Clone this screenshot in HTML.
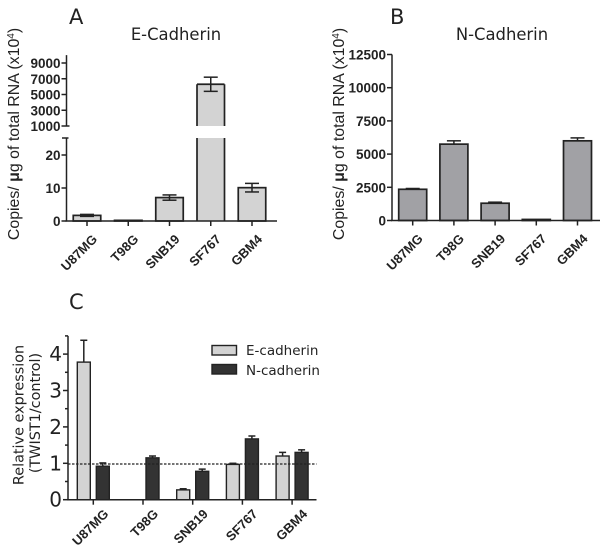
<!DOCTYPE html>
<html>
<head>
<meta charset="utf-8">
<style>
html,body{margin:0;padding:0;background:#fff}
svg{display:block;filter:blur(0.35px)}
.tick{font:bold 13.5px "Liberation Sans",sans-serif;fill:#222;text-anchor:end}
.cat{font:bold 13px "Liberation Sans",sans-serif;fill:#222;text-anchor:end}
.ylab{font:15.9px "Liberation Sans",sans-serif;fill:#222;text-anchor:middle}
.panel{font:21px "DejaVu Sans",sans-serif;fill:#222}
.title{font:16.4px "DejaVu Sans",sans-serif;fill:#222;text-anchor:middle}
.leg{font:13.5px "DejaVu Sans",sans-serif;fill:#222}
.ctick{font:20px "DejaVu Sans",sans-serif;fill:#222;text-anchor:end}
.clab{font:14.4px "DejaVu Sans",sans-serif;fill:#222;text-anchor:middle}
</style>
</head>
<body>
<svg id="fig" width="600" height="548" viewBox="0 0 600 548" xmlns="http://www.w3.org/2000/svg">
  <text class="panel" x="69" y="24">A</text>
  <text class="title" x="176" y="40">E-Cadherin</text>
  <text class="ylab" transform="translate(19,134) rotate(-90)">Copies/ <tspan font-weight="bold">μ</tspan>g of total RNA (x10<tspan font-size="10" dy="-5">4</tspan><tspan dy="5">)</tspan></text>
  <text class="panel" x="390" y="24">B</text>
  <text class="title" x="502" y="40">N-Cadherin</text>
  <text class="ylab" transform="translate(344,134) rotate(-90)">Copies/ <tspan font-weight="bold">μ</tspan>g of total RNA (x10<tspan font-size="10" dy="-5">4</tspan><tspan dy="5">)</tspan></text>
  <text class="panel" x="69" y="309">C</text>
  <text class="clab" transform="translate(23.5,415) rotate(-90)">Relative expression</text>
  <text class="clab" transform="translate(40,413) rotate(-90)">(TWIST1/control)</text>
  <g id="panelA"></g>
  <g id="panelB"></g>
  <g id="panelC"></g>
  <rect x="212" y="345.5" width="24.5" height="9.5" fill="#d3d3d3" stroke="#222" stroke-width="1.4"/>
  <text class="leg" x="246" y="355">E-cadherin</text>
  <rect x="212" y="364.5" width="24.5" height="9.5" fill="#333" stroke="#222" stroke-width="1.4"/>
  <text class="leg" x="246" y="375">N-cadherin</text>
</svg>
<script>
const categories = ['U87MG', 'T98G', 'SNB19', 'SF767', 'GBM4'];
const eCopies = [1.7, 0.2, 7.1, 6300, 10.1];
const eCopiesErr = [0.3, 0, 0.8, 900, 1.3];
const eLowerTicks = [0, 10, 20];
const eUpperTicks = [1000, 3000, 5000, 7000, 9000];
const nCopies = [2350, 5750, 1300, 80, 6000];
const nCopiesErr = [60, 250, 80, 0, 220];
const nTicks = [0, 2500, 5000, 7500, 10000, 12500];
const eRelative = [3.78, 0, 0.27, 0.97, 1.2];
const eRelativeErr = [0.6, 0, 0.03, 0.03, 0.1];
const nRelative = [0.92, 1.15, 0.78, 1.67, 1.3];
const nRelativeErr = [0.09, 0.05, 0.06, 0.08, 0.07];
const relTicks = [0, 1, 2, 3, 4];
const relMinorTicks = [0.5, 1.5, 2.5, 3.5, 4.5];
const referenceLevel = 0.98;

const NS = 'http://www.w3.org/2000/svg';
function line(parent, x1, y1, x2, y2, w, name, dash) {
  const el = document.createElementNS(NS, 'line');
  el.setAttribute('x1', x1);
  el.setAttribute('y1', y1);
  el.setAttribute('x2', x2);
  el.setAttribute('y2', y2);
  el.setAttribute('stroke', '#222');
  el.setAttribute('stroke-width', w);
  if (dash) el.setAttribute('stroke-dasharray', dash);
  
  
  parent.appendChild(el);
}
function rect(parent, x, y, w, h, fill, stroke, sw, name) {
  const el = document.createElementNS(NS, 'rect');
  el.setAttribute('x', x);
  el.setAttribute('y', y);
  el.setAttribute('width', w);
  el.setAttribute('height', Math.max(h, 0));
  el.setAttribute('fill', fill);
  el.setAttribute('stroke', stroke);
  el.setAttribute('stroke-width', sw);
  
  
  parent.appendChild(el);
}
function label(parent, x, y, str, cls, name, rot) {
  const el = document.createElementNS(NS, 'text');
  el.setAttribute('class', cls);
  if (rot) {
    el.setAttribute('transform', 'translate(' + x + ',' + y + ') rotate(' + rot + ')');
  } else {
    el.setAttribute('x', x);
    el.setAttribute('y', y);
  }
  el.textContent = str;
  
  
  parent.appendChild(el);
}
function errorBar(parent, cx, yTop, yVal, cap, w, name) {
  line(parent, cx, yTop, cx, yVal, w, name + '-stem');
  line(parent, cx - cap, yTop, cx + cap, yTop, w, name + '-cap');
}
function catLabels(parent, centers, y, dx, dy) {
  categories.forEach(function (c, i) {
    line(parent, centers(i), y, centers(i), y + 5, 1.5, 'x-tick-' + c);
    label(parent, centers(i) + dx, y + dy, c, 'cat', 'x-label-' + c, -45);
  });
}

/* Panel A: broken axis */
(function () {
  const g = document.getElementById('panelA');
  const axisX = 66.5, base = 221;
  const yLow = function (v) { return base - v * 3.3; };
  const yHigh = function (v) { return 126 - (v - 1000) * 0.007875; };
  const xc = function (i) { return 87 + i * 41.25; };
  const gapTop = 126, gapBottom = 138;
  eCopies.forEach(function (v, i) {
    const x = xc(i) - 13.75, c = categories[i];
    if (v >= 1000) {
      const top = yHigh(v);
      rect(g, x, top, 27.5, gapTop - top, '#d3d3d3', 'none', 0, 'bar-upper-fill-' + c);
      rect(g, x, gapBottom, 27.5, base - gapBottom, '#d3d3d3', 'none', 0, 'bar-lower-fill-' + c);
      line(g, x, top, x + 27.5, top, 1.7, 'bar-top-' + c);
      line(g, x, top, x, gapTop, 1.7, 'bar-upper-left-' + c);
      line(g, x + 27.5, top, x + 27.5, gapTop, 1.7, 'bar-upper-right-' + c);
      line(g, x, gapBottom, x, base, 1.7, 'bar-lower-left-' + c);
      line(g, x + 27.5, gapBottom, x + 27.5, base, 1.7, 'bar-lower-right-' + c);
      const e = yHigh(v + eCopiesErr[i]), e2 = yHigh(v - eCopiesErr[i]);
      line(g, xc(i), e, xc(i), e2, 1.5, 'error-stem-' + c);
      line(g, xc(i) - 7, e, xc(i) + 7, e, 1.5, 'error-cap-high-' + c);
      line(g, xc(i) - 7, e2, xc(i) + 7, e2, 1.5, 'error-cap-low-' + c);
    } else {
      rect(g, x, yLow(v), 27.5, base - yLow(v), '#d3d3d3', '#222', 1.7, 'bar-' + c);
      if (eCopiesErr[i] > 0) {
        const e = yLow(v + eCopiesErr[i]), e2 = yLow(v - eCopiesErr[i]);
        line(g, xc(i), e, xc(i), e2, 1.5, 'error-stem-' + c);
        line(g, xc(i) - 7, e, xc(i) + 7, e, 1.5, 'error-cap-high-' + c);
        line(g, xc(i) - 7, e2, xc(i) + 7, e2, 1.5, 'error-cap-low-' + c);
      }
    }
  });
  line(g, axisX, yHigh(10000), axisX, gapTop, 1.5, 'y-axis-upper');
  line(g, axisX, gapBottom, axisX, base, 1.5, 'y-axis-lower');
  line(g, axisX - 4.5, gapBottom, axisX + 2, gapBottom, 1.5, 'y-axis-break-cap');
  line(g, axisX, gapTop, axisX + 3, gapTop, 1.5, 'y-axis-break-cap-upper');
  line(g, axisX - 1, base, 277, base, 1.5, 'x-axis');
  eLowerTicks.forEach(function (t) {
    line(g, axisX - 5, yLow(t), axisX, yLow(t), 1.5, 'y-tick-' + t);
    label(g, axisX - 6, yLow(t) + 5, t, 'tick', 'y-label-' + t);
  });
  eUpperTicks.forEach(function (t) {
    line(g, axisX - 5, yHigh(t), axisX, yHigh(t), 1.5, 'y-tick-' + t);
    label(g, axisX - 6, yHigh(t) + 5, t, 'tick', 'y-label-' + t);
  });
  catLabels(g, xc, base, 11, 19);
})();

/* Panel B */
(function () {
  const g = document.getElementById('panelB');
  const axisX = 392, base = 220.5;
  const y = function (v) { return base - v * 0.01328; };
  const xc = function (i) { return 412.7 + i * 41.2; };
  nCopies.forEach(function (v, i) {
    const c = categories[i];
    rect(g, xc(i) - 14, y(v), 28, base - y(v), '#a1a1a5', '#222', 1.7, 'bar-' + c);
    if (nCopiesErr[i] > 0) {
      errorBar(g, xc(i), y(v + nCopiesErr[i]), y(v), 7, 1.5, 'error-' + c);
    }
  });
  line(g, axisX, y(12500), axisX, base, 1.5, 'y-axis');
  line(g, axisX - 1, base, 600, base, 1.5, 'x-axis');
  nTicks.forEach(function (t) {
    line(g, axisX - 5, y(t), axisX, y(t), 1.5, 'y-tick-' + t);
    label(g, axisX - 6, y(t) + 5, t, 'tick', 'y-label-' + t);
  });
  catLabels(g, xc, base, 11, 19);
})();

/* Panel C */
(function () {
  const g = document.getElementById('panelC');
  const axisX = 68, base = 499.7;
  const y = function (v) { return base - v * 36.4; };
  const xc = function (i) { return 93.3 + i * 49.7; };
  categories.forEach(function (c, i) {
    if (eRelative[i] > 0) {
      const e = y(eRelative[i]);
      errorBar(g, xc(i) - 9.5, y(eRelative[i] + eRelativeErr[i]), e, 3.5, 1.5, 'error-e-' + c);
      rect(g, xc(i) - 16, e, 13, base - e, '#d3d3d3', '#222', 1.4, 'bar-e-cadherin-' + c);
    }
    const n = y(nRelative[i]);
    errorBar(g, xc(i) + 9.5, y(nRelative[i] + nRelativeErr[i]), n, 3.5, 1.5, 'error-n-' + c);
    rect(g, xc(i) + 3, n, 13, base - n, '#333', '#222', 1.4, 'bar-n-cadherin-' + c);
  });
  line(g, axisX, y(referenceLevel), 316.5, y(referenceLevel), 1.3, 'reference-line', '2.5 1.5');
  line(g, axisX, y(4.5), axisX, base, 1.5, 'y-axis');
  line(g, axisX - 1, base, 316.5, base, 1.5, 'x-axis');
  relTicks.forEach(function (t) {
    line(g, axisX - 5, y(t), axisX, y(t), 1.5, 'y-tick-' + t);
    label(g, axisX - 6, y(t) + 7, t, 'ctick', 'y-label-' + t);
  });
  relMinorTicks.forEach(function (t) {
    line(g, axisX - 3, y(t), axisX, y(t), 1.5, 'y-minor-tick-' + t);
  });
  catLabels(g, xc, base, 16, 15);
})();
</script>
</body>
</html>
